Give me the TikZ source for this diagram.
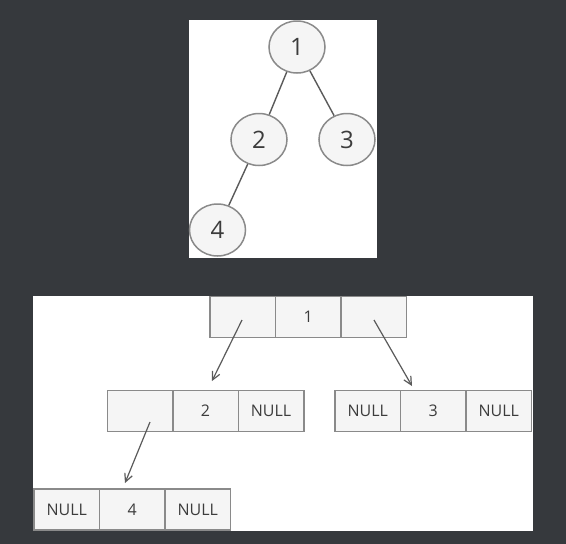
\documentclass[tikz,border=0pt]{standalone}
\usepackage{fontspec}
\setmainfont{Open Sans}
\usetikzlibrary{positioning,shapes.geometric,arrows.meta}
\definecolor{bgdark}{HTML}{36393D}
\definecolor{boxfill}{HTML}{F5F5F5}
\definecolor{boxline}{HTML}{8A8A8A}
\definecolor{inkgray}{HTML}{3C3C3C}
\definecolor{linkgray}{HTML}{5A5A5A}
\begin{document}
\begin{tikzpicture}[x=1pt,y=-1pt,
  treenode/.style={ellipse, draw=boxline, fill=boxfill, line width=1.5pt,
    minimum width=56pt, minimum height=52pt, inner sep=0pt,
    text=inkgray, font=\fontsize{24}{28}\selectfont},
  cell/.style={rectangle, draw=boxline, fill=boxfill, line width=1.5pt,
    minimum width=65.5pt, minimum height=41pt, inner sep=0pt, outer sep=0pt,
    text=inkgray, font=\fontsize{16}{18}\selectfont},
  edge/.style={draw=linkgray, line width=1.4pt},
  ptr/.style={draw=linkgray, line width=1.2pt, -{Straight Barb[length=8pt,width=8pt]}}]
% background and panels
\fill[bgdark] (0,0) rectangle (566,544);
\fill[white] (189,20) rectangle (377,258);
\fill[white] (33,296) rectangle (533,531);
\useasboundingbox (0,0) rectangle (566,544);

% tree
\node[treenode] (n1) at (297,47) {1};
\node[treenode] (n2) at (259,139.5) {2};
\node[treenode] (n3) at (347,139.5) {3};
\node[treenode] (n4) at (217.5,230) {4};
\draw[edge] (n1) -- (n2);
\draw[edge] (n1) -- (n3);
\draw[edge] (n2) -- (n4);

% linked records
\node[cell] (r1l) at (242.75,317.2) {};
\node[cell, right=0pt of r1l] (r1m) {1};
\node[cell, right=0pt of r1m] (r1r) {};

\node[cell] (r2l) at (140,411.2) {};
\node[cell, right=0pt of r2l] (r2m) {2};
\node[cell, right=0pt of r2m] (r2r) {NULL};

\node[cell] (r3l) at (367.7,411.2) {NULL};
\node[cell, right=0pt of r3l] (r3m) {3};
\node[cell, right=0pt of r3m] (r3r) {NULL};

\node[cell] (r4l) at (66.7,509.5) {NULL};
\node[cell, right=0pt of r4l] (r4m) {4};
\node[cell, right=0pt of r4m] (r4r) {NULL};

% pointers
\coordinate (p1) at (242,320);
\coordinate (q1) at (212,381);
\coordinate (p2) at (374,320);
\coordinate (q2) at (412,386);
\coordinate (p3) at (150,422);
\coordinate (q3) at (125,483);
\draw[ptr] (p1) -- (q1);
\draw[ptr] (p2) -- (q2);
\draw[ptr] (p3) -- (q3);
\end{tikzpicture}
\end{document}
